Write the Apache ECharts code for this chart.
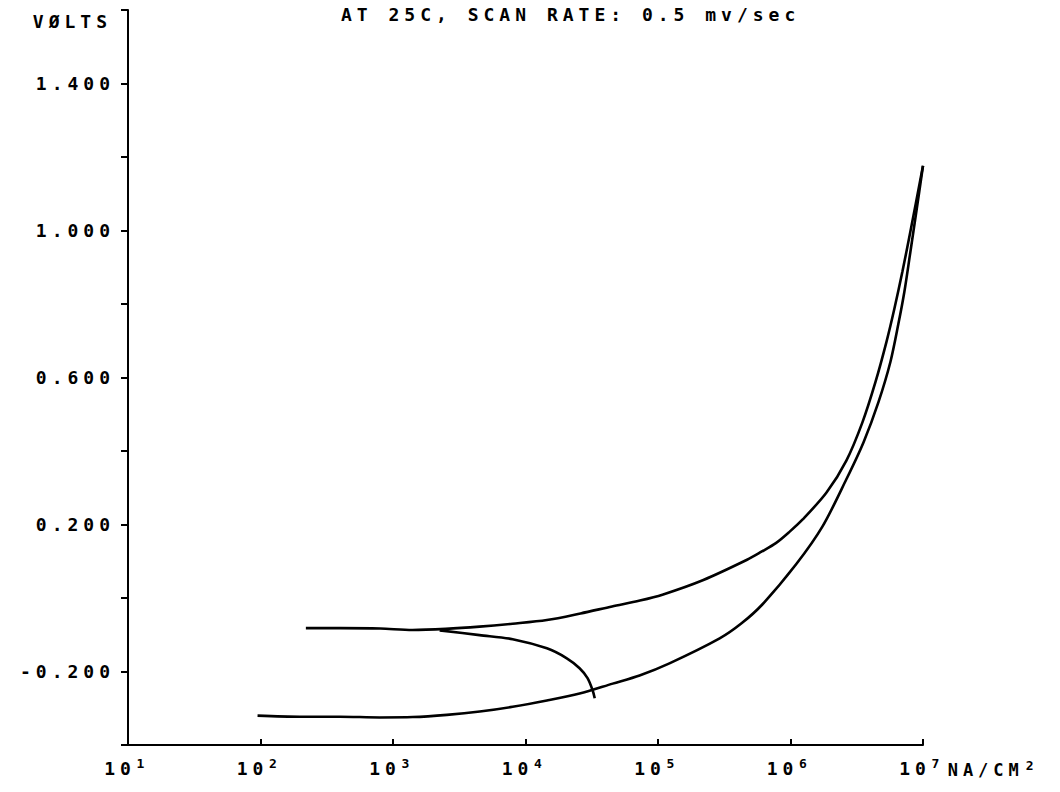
<!DOCTYPE html>
<html>
<head>
<meta charset="utf-8">
<title>Polarization scan</title>
<script src="https://cdn.jsdelivr.net/npm/echarts@6/dist/echarts.min.js"></script>
<style>
  html, body { margin: 0; padding: 0; background: #fff; }
  #chart { width: 1060px; height: 792px; }
  /* plotter-style wide character pitch */
  #chart text { letter-spacing: 5px; }
</style>
</head>
<body>
<div id="chart"></div>
<script>
// Current density (NA/CM2) and potential (volts) along each trace
const upperCurrent = [2.2e2, 4.0e2, 8.0e2, 1.4e3, 2.5e3, 4.5e3, 8.0e3, 1.45e4, 2.6e4, 4.5e4, 7.3e4, 1.08e5,
                      2.2e5, 4.7e5, 6.04e5, 7.8e5, 9.82e5, 1.23e6, 1.87e6, 2.64e6, 3.49e6, 4.38e6, 5.30e6,
                      6.08e6, 7.00e6, 8.04e6, 1.0e7];
const upperVolts   = [-0.082, -0.082, -0.083, -0.087, -0.084, -0.078, -0.070, -0.060, -0.042, -0.023, -0.007, 0.009,
                      0.049, 0.104, 0.126, 0.150, 0.180, 0.213, 0.287, 0.374, 0.478, 0.588, 0.697,
                      0.787, 0.889, 0.998, 1.176];

const lowerCurrent = [95, 198, 397, 794, 1.41e3, 2.55e3, 4.52e3, 8.0e3, 1.45e4, 2.56e4, 4.55e4, 7.26e4,
                      1.22e5, 2.92e5, 4.27e5, 6.15e5, 1.11e6, 1.74e6, 2.64e6, 3.56e6, 4.61e6, 5.68e6, 6.52e6,
                      7.24e6, 8.04e6, 8.92e6, 1.0e7];
const lowerVolts   = [-0.320, -0.323, -0.323, -0.325, -0.324, -0.318, -0.309, -0.296, -0.279, -0.260, -0.233, -0.211,
                      -0.178, -0.110, -0.069, -0.017, 0.093, 0.194, 0.323, 0.424, 0.533, 0.643, 0.746,
                      0.834, 0.943, 1.053, 1.176];

const branchCurrent = [2.25e3, 4.5e3, 8.0e3, 1.45e4, 2.05e4, 2.56e4, 2.94e4, 3.21e4, 3.33e4];
const branchVolts   = [-0.088, -0.101, -0.112, -0.137, -0.164, -0.191, -0.218, -0.251, -0.273];

// Axis labelling
const voltLabels = [-0.2, 0.2, 0.6, 1.0, 1.4];

const titleText = 'AT 25C, SCAN RATE: 0.5 mv/sec';
const yName = 'VØLTS';
const xName = 'NA/CM{e|2}';

const FONT = "'DejaVu Sans Mono', 'Liberation Mono', monospace";
const INK = '#000';

function pairs(xs, ys) { return xs.map((x, i) => [x, ys[i]]); }

const chart = echarts.init(document.getElementById('chart'), null, { renderer: 'svg' });

const lineSeries = (name, xs, ys) => ({
  name, type: 'line', data: pairs(xs, ys),
  showSymbol: false, smooth: 0.3,
  lineStyle: { color: INK, width: 2.6 },
  silent: true, animation: false
});

// superscript token style; left padding clears the spaced-out base glyphs
const supStyle = (padLeft) => ({
  fontFamily: FONT, fontSize: 13, fontWeight: 'bold', color: INK,
  padding: [0, 0, 9, padLeft]
});

chart.setOption({
  backgroundColor: '#fff',
  animation: false,
  title: {
    text: titleText, left: 336, top: 0,
    textStyle: { fontFamily: FONT, fontSize: 18, fontWeight: 'bold', color: INK }
  },
  grid: { left: 128, right: 137, top: 10, bottom: 47 },
  xAxis: {
    type: 'log', logBase: 10, min: 10, max: 1e7, splitNumber: 6,
    name: xName, nameLocation: 'end', nameGap: 8,
    nameTextStyle: { fontFamily: FONT, fontSize: 17, fontWeight: 'bold', color: INK,
                     verticalAlign: 'top', padding: [14, 0, 0, 0],
                     rich: { e: supStyle(27) } },
    axisLine: { onZero: false, lineStyle: { color: INK, width: 2 } },
    axisTick: { inside: true, length: 6, lineStyle: { color: INK, width: 2 } },
    axisLabel: {
      fontFamily: FONT, fontSize: 18, fontWeight: 'bold', color: INK, margin: 12,
      formatter: v => '10{e|' + Math.round(Math.log10(v)) + '}',
      rich: { e: supStyle(8) }
    },
    splitLine: { show: false }
  },
  yAxis: {
    type: 'value', min: -0.4, max: 1.6, interval: 0.2,
    name: yName, nameLocation: 'end', nameGap: 0,
    nameTextStyle: { fontFamily: FONT, fontSize: 18, fontWeight: 'bold', color: INK,
                     align: 'right', verticalAlign: 'top', padding: [2, 16, 0, 0] },
    axisLine: { lineStyle: { color: INK, width: 2 } },
    axisTick: { length: 7, lineStyle: { color: INK, width: 2 } },
    axisLabel: {
      fontFamily: FONT, fontSize: 18, fontWeight: 'bold', color: INK, margin: 13,
      formatter: v => voltLabels.some(t => Math.abs(t - v) < 1e-6) ? v.toFixed(3) : ''
    },
    splitLine: { show: false }
  },
  series: [
    lineSeries('upper', upperCurrent, upperVolts),
    lineSeries('lower', lowerCurrent, lowerVolts),
    lineSeries('branch', branchCurrent, branchVolts)
  ]
});
</script>
</body>
</html>
